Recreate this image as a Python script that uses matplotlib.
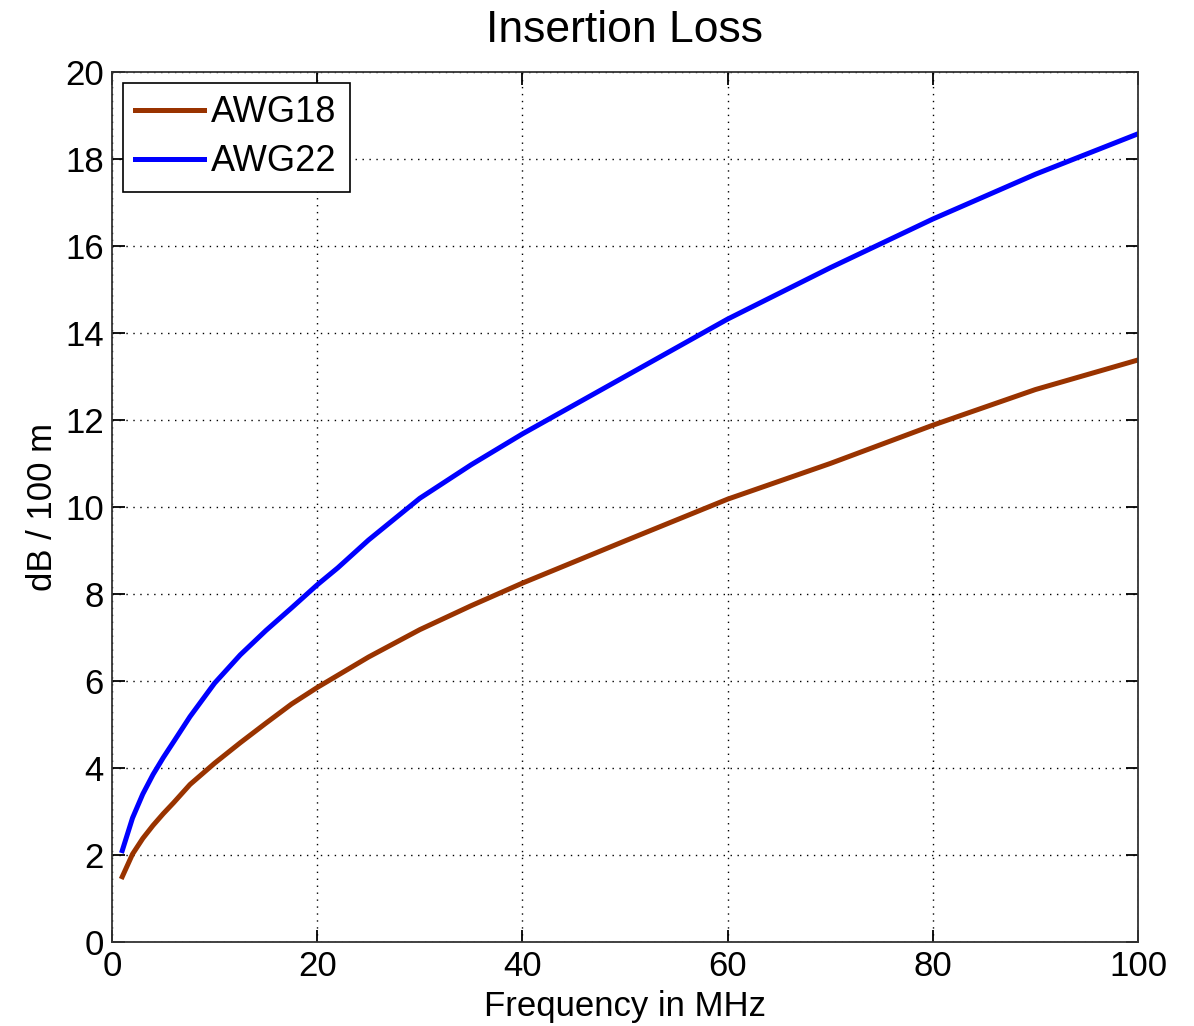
import matplotlib
matplotlib.use("Agg")
import matplotlib.pyplot as plt

plt.rcParams['font.family'] = ['Liberation Sans', 'DejaVu Sans']

freq18 = [1, 2, 3, 4, 5, 6, 7.6, 10, 12.5, 15, 17.5, 20, 25, 30, 35, 40, 50,
          60, 70, 80, 90, 100]
awg18 = [1.50, 2.02, 2.38, 2.68, 2.95, 3.20, 3.62, 4.11, 4.58, 5.03, 5.47, 5.85,
         6.55, 7.18, 7.73, 8.25, 9.22, 10.18, 11.0, 11.88, 12.7, 13.38]

freq22 = [1, 2, 3, 4, 5, 6, 7.6, 10, 12.5, 15, 17.5, 20, 22, 25, 30, 35, 40,
          50, 60, 70, 80, 90, 100]
awg22 = [2.10, 2.85, 3.40, 3.85, 4.24, 4.60, 5.18, 5.95, 6.60, 7.16, 7.68, 8.21,
         8.60, 9.24, 10.2, 10.97, 11.68, 13.0, 14.32, 15.5, 16.62, 17.65, 18.58]

fig = plt.figure(figsize=(11.94, 10.26), dpi=100)
ax = fig.add_axes([0.0938, 0.0819, 0.8593, 0.8479])

ax.plot(freq18, awg18, color='#993300', lw=3.6, label='AWG18')
ax.plot(freq22, awg22, color='#0000ff', lw=3.6, label='AWG22')

ax.set_xlim(0, 100)
ax.set_ylim(0, 20)
ax.set_xticks(range(0, 101, 20))
ax.set_yticks(range(0, 21, 2))
ax.grid(True, color='black', linestyle=(0, (1, 4)), linewidth=1.0)
ax.tick_params(direction='in', length=9, width=1.3, top=True, right=True,
               labelsize=25, pad=6)
for s in ax.spines.values():
    s.set_linewidth(1.3)
    s.set_color('#333333')

fig.text(0.523, 0.959, 'Insertion Loss', fontsize=32, ha='center', va='baseline')
ax.set_xlabel('Frequency in MHz', fontsize=25, labelpad=5)
ax.set_ylabel('dB / 100 m', fontsize=25, labelpad=4)

leg = ax.legend(loc='upper left', fontsize=26, fancybox=False, framealpha=1,
                edgecolor='black', borderpad=0.35, handlelength=1.9,
                handletextpad=0.2, labelspacing=0.38, borderaxespad=0.3)
leg.get_frame().set_linewidth(1.2)

fig.savefig('out.png', dpi=100)
